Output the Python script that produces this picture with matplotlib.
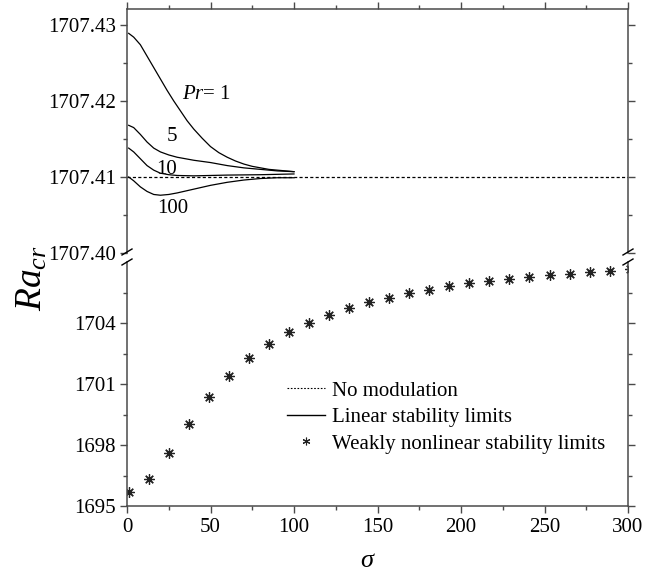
import matplotlib
matplotlib.use("Agg")
import matplotlib.pyplot as plt
from matplotlib.lines import Line2D
from matplotlib.ticker import MultipleLocator, FormatStrFormatter, FixedLocator

plt.rcParams['font.family'] = ['Liberation Serif', 'DejaVu Serif']
plt.rcParams['mathtext.fontset'] = 'custom'
plt.rcParams['mathtext.it'] = 'Liberation Serif:italic'
plt.rcParams['mathtext.rm'] = 'Liberation Serif'

# ---- data ----
no_mod = 1707.41

sigma_pr1 = [1, 4, 8, 12, 16, 20, 24, 28, 32, 36, 40, 45, 50, 55, 60, 65, 70, 75, 80, 85, 90, 95, 100]
ra_pr1 = [1707.4289, 1707.4284, 1707.4274, 1707.4259, 1707.4244, 1707.4229, 1707.4214, 1707.4200,
          1707.4187, 1707.4174, 1707.4163, 1707.4151, 1707.4140, 1707.4132, 1707.4126, 1707.4121,
          1707.4117, 1707.4114, 1707.4112, 1707.4110, 1707.4109, 1707.4108, 1707.4107]

sigma_pr5 = [1, 4, 8, 12, 16, 20, 25, 30, 35, 40, 50, 60, 70, 80, 90, 100]
ra_pr5 = [1707.4168, 1707.4165, 1707.4156, 1707.4146, 1707.4138, 1707.4133, 1707.4129, 1707.4126,
          1707.4124, 1707.4122, 1707.4119, 1707.4115, 1707.4112, 1707.4110, 1707.4108, 1707.4107]

sigma_pr10 = [1, 4, 8, 12, 16, 20, 25, 30, 40, 60, 80, 100]
ra_pr10 = [1707.4138, 1707.4133, 1707.4124, 1707.4115, 1707.4109, 1707.4105, 1707.4103, 1707.4102,
           1707.41015, 1707.41025, 1707.4103, 1707.4104]

sigma_pr100 = [1, 4, 8, 12, 16, 20, 25, 30, 40, 50, 60, 70, 80, 90, 100]
ra_pr100 = [1707.4100, 1707.4095, 1707.4087, 1707.4081, 1707.4077, 1707.4076, 1707.4077, 1707.4079,
            1707.4084, 1707.4089, 1707.4093, 1707.4096, 1707.4098, 1707.4099, 1707.4099]

sigma_wnl = [1, 13, 25, 37, 49, 61, 73, 85, 97, 109, 121, 133, 145, 157, 169, 181, 193,
             205, 217, 229, 241, 253, 265, 277, 289, 301]
ra_wnl = [1695.70, 1696.31, 1697.61, 1699.05, 1700.36, 1701.41, 1702.28, 1702.95, 1703.56,
          1704.02, 1704.40, 1704.74, 1705.02, 1705.25, 1705.46, 1705.64, 1705.80, 1705.95,
          1706.07, 1706.17, 1706.26, 1706.35, 1706.43, 1706.49, 1706.56, 1706.66]

pr_labels = ["$Pr$= 1", "5", "10", "100"]
bottom_yticks = [1695, 1698, 1701, 1704]

# ---- figure ----
W, H = 659, 571
fig = plt.figure(figsize=(W / 100, H / 100), dpi=100)

def fx(px):
    return px / W

def fy(py):
    return 1 - py / H

L, R = 127, 628
ax_top = fig.add_axes([fx(L), fy(253), fx(R) - fx(L), fy(9) - fy(253)])
ax_bot = fig.add_axes([fx(L), fy(506), fx(R) - fx(L), fy(262) - fy(506)])

spine_c = '#4a4a4a'
FS = 15
for ax in (ax_top, ax_bot):
    for s in ax.spines.values():
        s.set_color(spine_c)
        s.set_linewidth(1.1)
    ax.set_xlim(0, 300)
    ax.xaxis.set_major_locator(MultipleLocator(50))
    ax.xaxis.set_minor_locator(MultipleLocator(25))
    ax.tick_params(which='both', direction='out', colors=spine_c, labelcolor='black',
                   labelsize=FS, width=1.0)
    ax.tick_params(which='major', length=5)
    ax.tick_params(which='minor', length=3)

# top axes
ax_top.set_ylim(1707.40, 1707.4321)
ax_top.spines['bottom'].set_visible(False)
ax_top.yaxis.set_major_locator(MultipleLocator(0.01))
ax_top.yaxis.set_minor_locator(MultipleLocator(0.005))
ax_top.yaxis.set_major_formatter(FormatStrFormatter('%.2f'))
ax_top.tick_params(axis='x', which='both', bottom=False, labelbottom=False, top=True, labeltop=False)
ax_top.tick_params(axis='y', which='both', right=True, labelright=False, pad=3)

ax_top.axhline(no_mod, color='black', lw=0.9, dashes=(2.5, 1.8))
for xs, ys in [(sigma_pr1, ra_pr1), (sigma_pr5, ra_pr5), (sigma_pr10, ra_pr10), (sigma_pr100, ra_pr100)]:
    ax_top.plot(xs, ys, color='black', lw=0.9)

ax_top.text(33, 1707.4208, pr_labels[0], fontsize=FS, ha='left', va='center')
ax_top.text(27, 1707.4153, pr_labels[1], fontsize=FS, ha='center', va='center')
ax_top.text(23.4, 1707.4110, pr_labels[2], fontsize=FS, ha='center', va='center')
ax_top.text(27.5, 1707.4059, pr_labels[3], fontsize=FS, ha='center', va='center')

# bottom axes
ax_bot.set_ylim(1695, 1707)
ax_bot.spines['top'].set_visible(False)
ax_bot.yaxis.set_major_locator(FixedLocator(bottom_yticks))
ax_bot.yaxis.set_minor_locator(FixedLocator([1696.5, 1699.5, 1702.5, 1705.5]))
ax_bot.yaxis.set_major_formatter(FormatStrFormatter('%d'))
ax_bot.tick_params(axis='y', which='both', right=True, labelright=False, pad=3)
ax_bot.tick_params(axis='x', which='both', top=False, pad=4)

ax_bot.plot(sigma_wnl, ra_wnl, linestyle='none', marker=(8, 2, 0), markersize=7.5,
            markeredgewidth=0.9, color='#222222')

# break marks
for xpx in (L, R):
    for ypx in (252, 262):
        fig.add_artist(Line2D([fx(xpx - 5), fx(xpx + 5)], [fy(ypx + 3), fy(ypx - 3)],
                              color='black', lw=1.0, transform=fig.transFigure))

# legend
h1 = Line2D([], [], color='black', lw=0.8, dashes=(1.5, 1.5))
h2 = Line2D([], [], color='black', lw=1.0)
h3 = Line2D([], [], linestyle='none', marker=(6, 2, 0), markersize=5.5, markeredgewidth=0.8,
            color='#222222')
ax_bot.legend([h1, h2, h3], ["No modulation", "Linear stability limits",
                             "Weakly nonlinear stability limits"],
              loc='upper left', bbox_to_anchor=(fx(287), fy(381)), bbox_transform=fig.transFigure,
              frameon=False, fontsize=FS, handlelength=1.8, handletextpad=0.35,
              labelspacing=0.33, borderpad=0, borderaxespad=0)

# axis labels
fig.text(fx(32), fy(278), "$Ra_{cr}$", fontsize=27, rotation=90, ha='center', va='center')
fig.text(fx(368), fy(561), r"$\sigma$", fontsize=19, ha='center', va='center')

fig.savefig("out.png", dpi=100)
